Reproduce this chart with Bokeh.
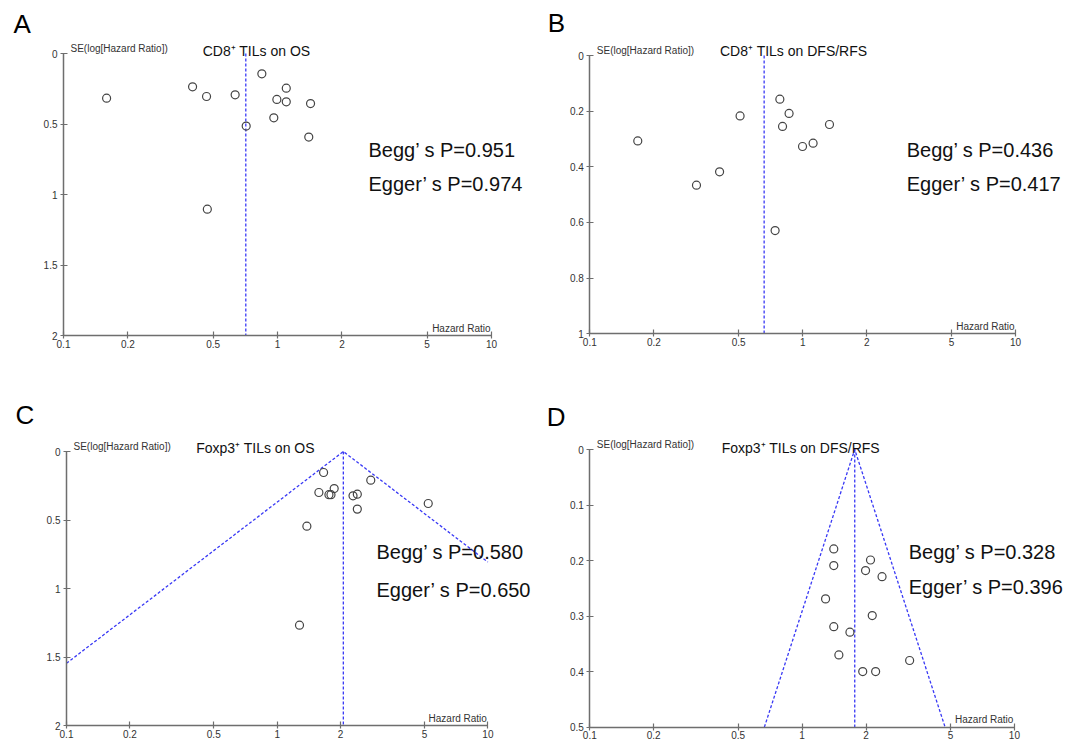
import numpy as np
from bokeh.plotting import figure
from bokeh.layouts import column, row
from bokeh.models import Range1d, FixedTicker, NumeralTickFormatter, Label
from bokeh.embed import file_html
from bokeh.resources import INLINE

FONT = "Liberation Sans"

# ---------------- data ----------------
x_ticks = [0.1, 0.2, 0.5, 1, 2, 5, 10]

# Panel A: CD8+ TILs on OS
hr_a = [0.159, 0.401, 0.466, 0.634, 0.845, 1.099, 0.993, 1.099, 1.427, 0.961, 0.714, 1.40, 0.47]
se_a = [0.317, 0.236, 0.305, 0.293, 0.144, 0.246, 0.326, 0.343, 0.355, 0.456, 0.515, 0.593, 1.104]
pooled_a = 0.711
yticks_a = [0, 0.5, 1, 1.5, 2]

# Panel B: CD8+ TILs on DFS/RFS
hr_b = [0.168, 0.508, 0.407, 0.317, 0.781, 0.863, 0.804, 1.336, 0.998, 1.119, 0.742]
se_b = [0.307, 0.217, 0.418, 0.466, 0.157, 0.208, 0.255, 0.248, 0.327, 0.315, 0.629]
pooled_b = 0.659
yticks_b = [0, 0.2, 0.4, 0.6, 0.8, 1]

# Panel C: Foxp3+ TILs on OS
hr_c = [1.66, 1.577, 1.864, 1.76, 1.80, 2.29, 2.40, 2.78, 2.40, 5.21, 1.383, 1.276]
se_c = [0.153, 0.299, 0.270, 0.315, 0.315, 0.323, 0.311, 0.209, 0.420, 0.379, 0.544, 1.266]
pooled_c = 2.06
yticks_c = [0, 0.5, 1, 1.5, 2]

# Panel D: Foxp3+ TILs on DFS/RFS
hr_d = [1.41, 1.41, 2.10, 1.99, 2.38, 1.29, 2.14, 1.41, 1.68, 1.49, 3.21, 1.93, 2.22]
se_d = [0.179, 0.209, 0.199, 0.218, 0.229, 0.269, 0.299, 0.319, 0.329, 0.370, 0.380, 0.400, 0.400]
pooled_d = 1.77
yticks_d = [0, 0.1, 0.2, 0.3, 0.4, 0.5]

titles = ["CD8\u207a TILs on OS", "CD8\u207a TILs on DFS/RFS",
          "Foxp3\u207a TILs on OS", "Foxp3\u207a TILs on DFS/RFS"]
begg = ["Begg\u2019 s P=0.951", "Begg\u2019 s P=0.436", "Begg\u2019 s P=0.580", "Begg\u2019 s P=0.328"]
egger = ["Egger\u2019 s P=0.974", "Egger\u2019 s P=0.417", "Egger\u2019 s P=0.650", "Egger\u2019 s P=0.396"]
letters = ["A", "B", "C", "D"]

AXIS_COLOR = "#6e6e6e"
DASH_COLOR = "#3838f5"
X_LO, X_HI = 0.1, 10


def panel(hr, se, pooled, yticks, title, b_txt, e_txt, letter, funnel,
          W, H, ax_left, decade, ax_top, unit,
          title_x, title_off, stat_x, begg_y, egger_y, let_dx, let_dy):
    ymax = yticks[-1]
    # ranges chosen so the (fixed-location) axes sit where the reference draws them
    xs = 10 ** (np.log10(X_LO) - ax_left / decade)
    xe = 10 ** (np.log10(X_LO) + (W - ax_left) / decade)
    y_bottom = (H - ax_top) / unit
    y_top = -ax_top / unit
    p = figure(x_axis_type="log", x_range=Range1d(xs, xe), y_range=Range1d(y_bottom, y_top),
               width=W, height=H, min_border=0,
               output_backend="svg", toolbar_location=None)
    p.outline_line_color = None
    p.xgrid.visible = False
    p.ygrid.visible = False
    p.background_fill_color = "white"
    p.border_fill_color = "white"

    p.xaxis.fixed_location = ymax
    p.yaxis.fixed_location = X_LO
    p.xaxis.bounds = (X_LO, X_HI)
    p.yaxis.bounds = (0, ymax)
    p.xaxis.ticker = FixedTicker(ticks=x_ticks, minor_ticks=[])
    p.yaxis.ticker = FixedTicker(ticks=yticks, minor_ticks=[])
    for ax in (p.xaxis[0], p.yaxis[0]):
        ax.formatter = NumeralTickFormatter(format="0.[0]")
        ax.axis_line_color = AXIS_COLOR
        ax.axis_line_width = 1.5
        ax.major_tick_line_color = AXIS_COLOR
        ax.major_tick_line_width = 1.2
        ax.major_tick_in = 4
        ax.major_tick_out = 3
        ax.minor_tick_line_color = None
        ax.major_label_text_font = FONT
        ax.major_label_text_font_size = "10px"
        ax.major_label_text_color = "#333333"
    p.xaxis.major_label_standoff = 1
    p.yaxis.major_label_standoff = 3

    dash = dict(line_color=DASH_COLOR, line_dash="3 2", line_width=1.3)
    if funnel:
        se_left = min(ymax, np.log(pooled / X_LO) / 1.96)
        se_right = min(ymax, np.log(X_HI / pooled) / 1.96)
        fx = [pooled * np.exp(-1.96 * se_left), pooled, pooled * np.exp(1.96 * se_right)]
        fy = [se_left, 0, se_right]
        p.line(fx, fy, **dash)
    p.line([pooled, pooled], [0, ymax], **dash)

    p.scatter(hr, se, marker="circle", size=8, fill_color=None,
              line_color="#444444", line_width=1.2)

    p.add_layout(Label(x=X_LO, y=0, x_offset=7, y_offset=0, text="SE(log[Hazard Ratio])",
                       text_font=FONT, text_font_size="10px", text_color="#333333",
                       text_baseline="bottom"))
    p.add_layout(Label(x=X_HI, y=ymax, x_offset=-1, y_offset=2, text="Hazard Ratio",
                       text_font=FONT, text_font_size="10px", text_color="#333333",
                       text_align="right", text_baseline="bottom"))
    p.add_layout(Label(x=title_x, y=0, y_offset=title_off, text=title,
                       text_font=FONT, text_font_size="14px", text_color="#111111",
                       text_align="center", text_baseline="middle"))
    p.add_layout(Label(x=stat_x, y=begg_y, text=b_txt, text_font=FONT,
                       text_font_size="20px", text_color="#111111",
                       text_align="left", text_baseline="middle"))
    p.add_layout(Label(x=stat_x, y=egger_y, text=e_txt, text_font=FONT,
                       text_font_size="20px", text_color="#111111",
                       text_align="left", text_baseline="middle"))
    p.add_layout(Label(x=X_LO, y=0, x_offset=let_dx, y_offset=let_dy, text=letter,
                       text_font=FONT, text_font_size="26px", text_color="#000000",
                       text_align="left", text_baseline="alphabetic"))
    return p


pa = panel(hr_a, se_a, pooled_a, yticks_a, titles[0], begg[0], egger[0], letters[0], False,
           532, 370, 63, 214, 53, 141,
           0.798, 3, 2.66, 0.681, 0.929, -50, 30)
pb = panel(hr_b, se_b, pooled_b, yticks_b, titles[1], begg[1], egger[1], letters[1], False,
           533, 370, 57.3, 212.9, 55, 278.3,
           0.907, 5, 3.08, 0.338, 0.4635, -42, 33)
pc = panel(hr_c, se_c, pooled_c, yticks_c, titles[2], begg[2], egger[2], letters[2], True,
           532, 370, 66, 210.7, 81, 137.2,
           0.789, 4, 2.96, 0.736, 1.006, -51, 37)
pd_ = panel(hr_d, se_d, pooled_d, yticks_d, titles[3], begg[3], egger[3], letters[3], True,
            533, 370, 57.3, 212.3, 79, 555.3,
            0.986, 2, 3.18, 0.184, 0.2485, -43, 33)

layout = column(row(pa, pb), row(pc, pd_))

with open("out.html", "w") as f:
    f.write(file_html(layout, INLINE))
